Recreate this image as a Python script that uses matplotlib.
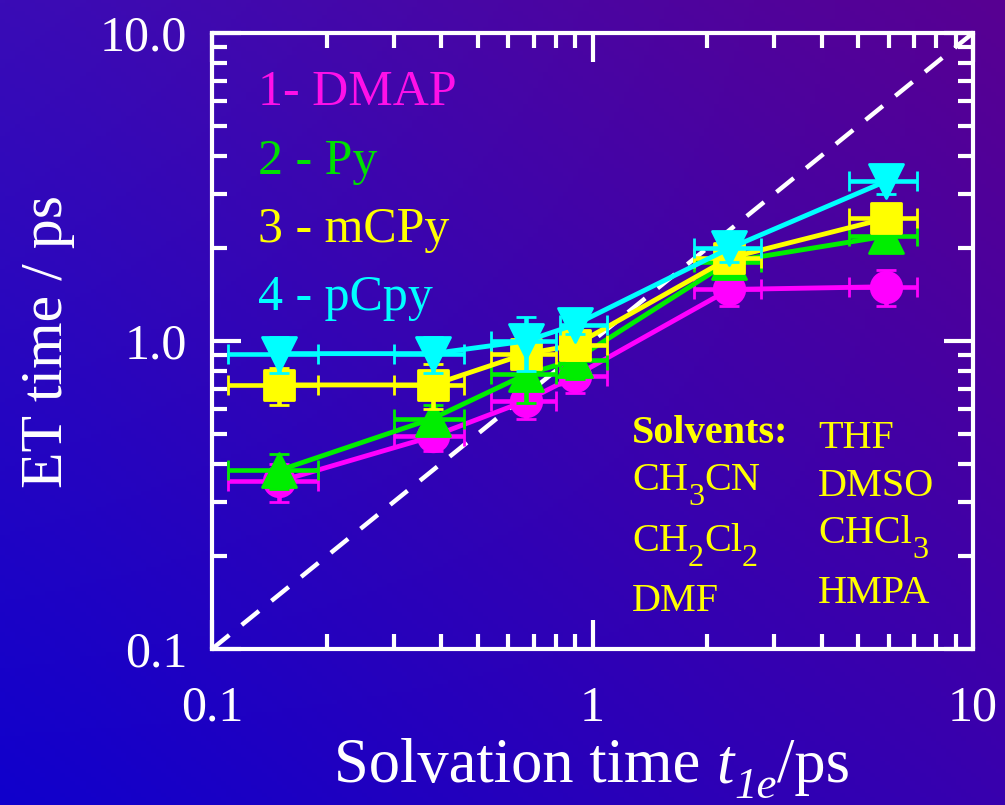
import numpy as np
import matplotlib
matplotlib.use("Agg")
import matplotlib.pyplot as plt
from matplotlib.markers import MarkerStyle

plt.rcParams['font.family'] = ['Liberation Serif', 'DejaVu Serif']

# Solvation times (ps) and their uncertainties
solvation_time = [0.15, 0.38, 0.67, 0.90, 2.29, 5.90]
solvation_err_lo = [0.04, 0.08, 0.13, 0.08, 0.44, 1.18]
solvation_err_hi = [0.04, 0.08, 0.13, 0.19, 0.48, 1.21]

# Electron-transfer times (ps) for each acceptor
et_dmap = [0.35, 0.49, 0.64, 0.77, 1.47, 1.50]
et_py = [0.38, 0.56, 0.78, 0.87, 1.81, 2.19]
et_mcpy = [0.72, 0.72, 0.91, 0.97, 1.86, 2.50]
et_pcpy = [0.91, 0.91, 1.00, 1.13, 2.00, 3.30]

err_dmap = [0.05, 0.05, 0.08, 0.09, 0.17, 0.20]
err_py = [0.05, 0.06, 0.15, 0.12, 0.15, 0.20]
err_mcpy = [0.10, 0.12, 0.10, 0.10, 0.15, 0.15]
err_pcpy = [0.12, 0.12, 0.20, 0.08, 0.20, 0.30]

series_labels = ['1- DMAP', '2 - Py', '3 - mCPy', '4 - pCpy']
# Solvent formulas as (text, is_subscript) pieces
solvents_left = [[('CH', 0), ('3', 1), ('CN', 0)],
                 [('CH', 0), ('2', 1), ('Cl', 0), ('2', 1)],
                 [('DMF', 0)]]
solvents_right = [[('THF', 0)], [('DMSO', 0)],
                  [('CHCl', 0), ('3', 1)], [('HMPA', 0)]]

W, H = 1005, 805
fig = plt.figure(figsize=(W / 100, H / 100), dpi=100)
renderer = fig.canvas.get_renderer()

# Blue-to-purple diagonal background
bg = fig.add_axes([0, 0, 1, 1], zorder=-10)
tl = np.array([0x3a, 0x0c, 0xb6]) / 255
tr = np.array([0x58, 0x00, 0x92]) / 255
bl = np.array([0x10, 0x00, 0xcc]) / 255
br = np.array([0x38, 0x00, 0xae]) / 255
u = np.linspace(0, 1, 200)[None, :, None]
v = np.linspace(0, 1, 200)[:, None, None]
img = (1 - v) * ((1 - u) * tl + u * tr) + v * ((1 - u) * bl + u * br)
bg.imshow(img, aspect='auto', extent=[0, 1, 0, 1], origin='upper')
bg.set_axis_off()


def fx(px):
    return px / W


def fy(py):
    return 1 - py / H


def rich_text(x_px, base_px, pieces, size, color, center=False,
              sub_scale=0.8, sub_drop=0.36):
    """Draw a line of text built from (text, is_sub, italic, gap_em) pieces."""
    placed = []
    x = 0.0
    for txt, is_sub, italic, gap in pieces:
        fs = size * sub_scale if is_sub else size
        t = fig.text(0, 0, txt, fontsize=fs, color=color,
                     style='italic' if italic else 'normal',
                     ha='left', va='baseline')
        w = t.get_window_extent(renderer).width
        dy = sub_drop * size * 100 / 72 if is_sub else 0.0
        placed.append((t, x, dy))
        x += w + gap * size * 100 / 72
    start = x_px - x / 2 if center else x_px
    for t, off, dy in placed:
        t.set_position((fx(start + off), fy(base_px + dy)))


ax = fig.add_axes([fx(212), fy(649), fx(973) - fx(212), fy(33) - fy(649)])
ax.set_facecolor('none')
ax.set_xscale('log')
ax.set_yscale('log')
ax.set_xlim(0.1, 10)
ax.set_ylim(0.1, 10)

# Diagonal y = x reference line
ax.plot([0.1, 10], [0.1, 10], color='white', lw=3.2, dashes=(5, 3.6), zorder=2)

styles = [
    (et_dmap, err_dmap, '#ff00ff', 'o', 22),
    (et_py, err_py, '#00ee00', '^', 24),
    (et_mcpy, err_mcpy, '#ffff00', 's', 21),
    (et_pcpy, err_pcpy, '#00ffff', 'v', 24),
]
xerr = [solvation_err_lo, solvation_err_hi]
for i, (yv, ye, col, mk, ms) in enumerate(styles):
    ax.errorbar(solvation_time, yv, yerr=ye, xerr=xerr, color=col,
                marker=MarkerStyle(mk, joinstyle='round'), ms=ms,
                mec=col, mew=2, lw=3.5, elinewidth=3.3, capsize=7.5,
                capthick=3.3, zorder=3 + i)

for spine in ax.spines.values():
    spine.set_color('white')
    spine.set_linewidth(3)

ax.tick_params(which='both', direction='in', top=True, right=True,
               colors='white')
ax.tick_params(which='major', length=21, width=3, labelsize=36)
ax.tick_params(which='minor', length=11, width=3)
ax.tick_params(axis='x', which='major', pad=26)
ax.tick_params(axis='y', which='major', pad=18)
ax.set_xticks([0.1, 1, 10])
ax.set_xticklabels(['0.1', '1', '10'])
ax.set_yticks([0.1, 1, 10])
ax.set_yticklabels(['0.1', '1.0', '10.0'])
ax.xaxis.set_minor_formatter(matplotlib.ticker.NullFormatter())
ax.yaxis.set_minor_formatter(matplotlib.ticker.NullFormatter())

# Axis titles
rich_text(592, 782, [('Solvation time', False, False, 0.25),
                     ('t', False, True, 0.02),
                     ('1e', True, True, 0.0),
                     ('/ps', False, False, 0.0)],
          45, 'white', center=True, sub_scale=0.72, sub_drop=0.25)
fig.text(fx(62), fy(342), 'ET time / ps', color='white', fontsize=43,
         rotation=90, rotation_mode='anchor', ha='center', va='baseline')

# Series labels
label_colors = ['#ff10e8', '#00e000', '#ffff00', '#00ffff']
label_base = [105, 174, 242, 310]
for lab, col, yb in zip(series_labels, label_colors, label_base):
    fig.text(fx(258), fy(yb), lab, color=col, fontsize=36,
             ha='left', va='baseline')

# Solvent list
fig.text(fx(632), fy(443), 'Solvents:', color='#ffff00', fontsize=29,
         fontweight='bold', ha='left', va='baseline')
for parts, yb in zip(solvents_left, [490, 551, 611]):
    rich_text(632, yb, [(p, bool(s), False, 0.0) for p, s in parts],
              29, '#ffff00')
for parts, yb in zip(solvents_right, [448, 496, 543, 603]):
    rich_text(818, yb, [(p, bool(s), False, 0.0) for p, s in parts],
              29, '#ffff00')

fig.savefig('out.png', dpi=100)
